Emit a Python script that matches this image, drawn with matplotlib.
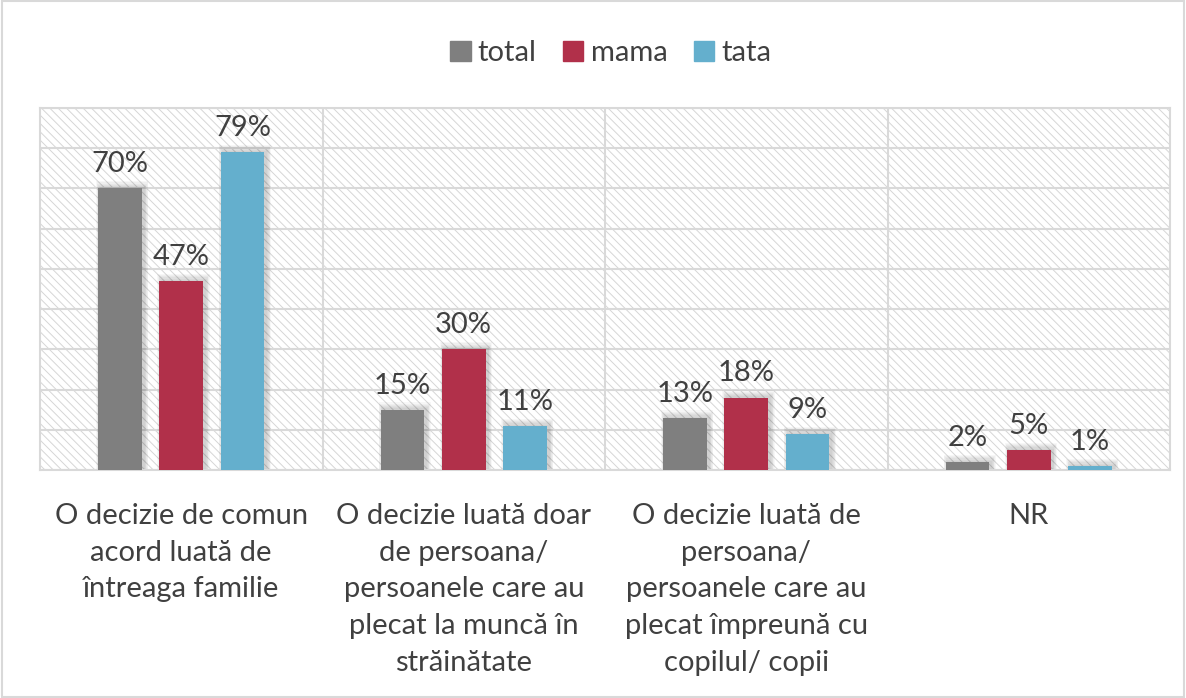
import matplotlib
matplotlib.use("Agg")
import matplotlib.pyplot as plt
from matplotlib.patches import Rectangle
import numpy as np

plt.rcParams['font.family'] = ['Lato', 'DejaVu Sans']
plt.rcParams['hatch.linewidth'] = 0.7

categories = [
    "O decizie de comun\nacord luată de\nîntreaga familie",
    "O decizie luată doar\nde persoana/\npersoanele care au\nplecat la muncă în\nstrăinătate",
    "O decizie luată de\npersoana/\npersoanele care au\nplecat împreună cu\ncopilul/ copii",
    "NR",
]
series_names = ["total", "mama", "tata"]
total = [70, 15, 13, 2]
mama = [47, 30, 18, 5]
tata = [79, 11, 9, 1]
colors = ["#7F7F7F", "#B1304A", "#64AFCD"]

fig = plt.figure(figsize=(11.86, 6.98), dpi=100)
ax = fig.add_axes([40/1186, 1-470/698, 1130/1186, 362/698])

# hatched background
bg = Rectangle((0, 0), 1, 1, transform=ax.transAxes, facecolor="white",
               edgecolor="#D6D6D6", hatch="\\\\\\\\", lw=0, zorder=0)
ax.add_patch(bg)
ax.set_facecolor("white")

x = np.arange(len(categories))
width = 0.155
step = 0.217
series = [total, mama, tata]

for i, (vals, c) in enumerate(zip(series, colors)):
    xs = x + (i - 1) * step
    # soft shadow
    for k in range(6):
        grow = 0.005 * (k + 1)
        ax.bar(xs + 0.008, np.array(vals) + 0.3 * (k + 1), width=width + grow,
               color="black", alpha=0.03, zorder=2, lw=0)
    bars = ax.bar(xs, vals, width=width, color=c, zorder=3, lw=0)
    for b, v in zip(bars, vals):
        ax.annotate(f"{v}%", (b.get_x() + b.get_width()/2, v), xytext=(0, 8),
                    textcoords="offset points", ha="center", va="bottom",
                    fontsize=21, color="#404040", zorder=5)

ax.set_xlim(-0.5, 3.5)
ax.set_ylim(0, 90)
ax.set_yticks(np.arange(0, 91, 10))
ax.yaxis.grid(True, color="#D9D9D9", lw=1.5, zorder=1)
ax.set_axisbelow(True)
for b in [0.5, 1.5, 2.5]:
    ax.axvline(b, color="#D9D9D9", lw=1.5, zorder=1)
ax.tick_params(axis="y", left=False, labelleft=False)
ax.tick_params(axis="x", bottom=False, pad=20)
ax.set_xticks(x)
ax.set_xticklabels(categories, fontsize=21, color="#404040", va="top", linespacing=1.52)
for s in ["top", "right", "left", "bottom"]:
    ax.spines[s].set_color("#D9D9D9")
    ax.spines[s].set_linewidth(1.5)

handles = [Rectangle((0, 0), 1, 1, color=c) for c in colors]
fig.legend(handles, series_names, loc="center", bbox_to_anchor=(0.515, 1-53/698), ncol=3,
           frameon=False, fontsize=21, handlelength=0.7, handleheight=0.7,
           handletextpad=0.25, columnspacing=0.9, labelcolor="#404040")

fig.patches.append(Rectangle((0.002, 0.002), 0.996, 0.996, transform=fig.transFigure,
                             fill=False, edgecolor="#D9D9D9", lw=1.5))

fig.savefig("out.png", dpi=100)
